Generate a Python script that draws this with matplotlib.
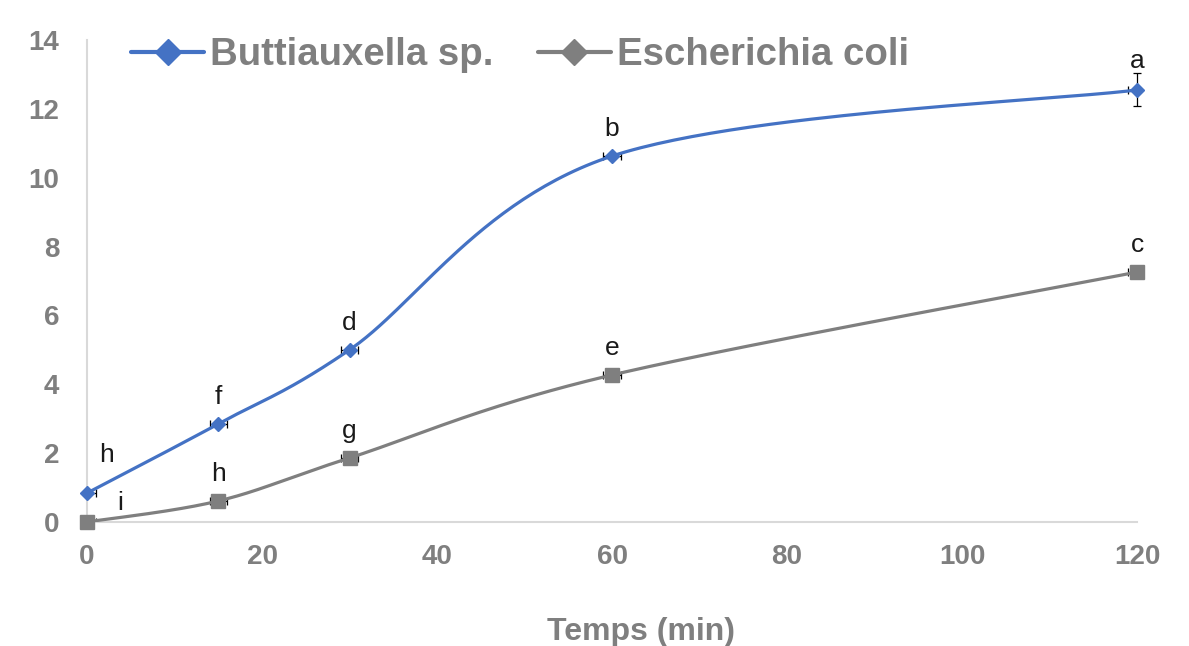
import numpy as np
import matplotlib
matplotlib.use("Agg")
import matplotlib.pyplot as plt
from matplotlib.lines import Line2D

plt.rcParams['font.family'] = ['Liberation Sans', 'DejaVu Sans']

# data
temps = [0, 15, 30, 60, 120]
butti = [0.84, 2.85, 5.0, 10.63, 12.55]
ecoli = [0.0, 0.61, 1.86, 4.27, 7.26]
butti_yerr = [0, 0, 0, 0, 0.48]
ecoli_yerr = [0, 0, 0, 0, 0]
xerr = [1.0, 1.0, 1.0, 1.0, 1.0]
butti_letters = ['h', 'f', 'd', 'b', 'a']
ecoli_letters = ['i', 'h', 'g', 'e', 'c']

BLUE = '#4472C4'
GREY = '#7F7F7F'
TXT = '#7F7F7F'


def smooth(x, y, sx, sy, n=60):
    # excel-like smoothed line: cubic bezier, tangents (P[i+1]-P[i-1])/6 in pixel space
    p = np.column_stack([np.asarray(x, float) * sx, np.asarray(y, float) * sy])
    pts = []
    m = len(p)
    for i in range(m - 1):
        p0 = p[max(i - 1, 0)]
        p1 = p[i]
        p2 = p[i + 1]
        p3 = p[min(i + 2, m - 1)]
        c1 = p1 + (p2 - p0) / 6
        c2 = p2 - (p3 - p1) / 6
        t = np.linspace(0, 1, n)[:, None]
        seg = (1 - t) ** 3 * p1 + 3 * (1 - t) ** 2 * t * c1 + 3 * (1 - t) * t ** 2 * c2 + t ** 3 * p2
        pts.append(seg if i == 0 else seg[1:])
    pts = np.vstack(pts)
    return pts[:, 0] / sx, pts[:, 1] / sy


fig = plt.figure(figsize=(11.89, 6.46), dpi=100)
ax = fig.add_axes([0.0732, 0.192, 0.8831, 0.746])
ax.set_xlim(0, 120)
ax.set_ylim(0, 14)

# pixels per unit, so the smoothing is done on screen proportions
sx = 1050 / 120
sy = 482 / 14

for ys, col in [(butti, BLUE), (ecoli, GREY)]:
    cx, cy = smooth(temps, ys, sx, sy)
    ax.plot(cx, cy, color=col, lw=2.3, zorder=3, solid_capstyle='round')

# error bars
ax.errorbar(temps, butti, xerr=xerr, fmt='none', ecolor='black', elinewidth=0.9, capsize=3, capthick=0.9, zorder=2)
ax.errorbar(temps, ecoli, xerr=xerr, fmt='none', ecolor='black', elinewidth=0.9, capsize=3, capthick=0.9, zorder=2)
idx = [i for i, e in enumerate(butti_yerr) if e > 0]
eb = ax.errorbar([temps[i] for i in idx], [butti[i] for i in idx], yerr=[butti_yerr[i] for i in idx],
                 fmt='none', ecolor='black', elinewidth=0.9, capsize=3, capthick=0.9, zorder=2)
for art in eb.lines[1] + eb.lines[2]:
    art.set_clip_on(False)

# markers
ax.plot(temps, butti, ls='none', marker='D', ms=6.8, color=BLUE, zorder=4, clip_on=False)
ax.plot(temps, ecoli, ls='none', marker='s', ms=9.5, color=GREY, zorder=4, clip_on=False)

# letters
offs_b = [(14, 22), (0, 14.4), (0, 14.4), (0, 14.4), (0, 15.5)]
offs_e = [(24, 8.5), (0, 14.4), (0, 14.4), (0, 14.4), (0, 14.4)]
for ys, labs, offs in [(butti, butti_letters, offs_b), (ecoli, ecoli_letters, offs_e)]:
    for x, y, s, o in zip(temps, ys, labs, offs):
        ax.annotate(s, (x, y), xytext=o, textcoords='offset points', ha='center', va='baseline',
                    fontsize=19, color='#1a1a1a', annotation_clip=False)

# axes look
for s in ['top', 'right']:
    ax.spines[s].set_visible(False)
for s in ['left', 'bottom']:
    ax.spines[s].set_color('#D9D9D9')
    ax.spines[s].set_linewidth(1.5)
ax.set_xticks(range(0, 121, 20))
ax.set_yticks(range(0, 15, 2))
ax.tick_params(length=0, labelsize=20, labelcolor=TXT)
for lab in ax.get_xticklabels() + ax.get_yticklabels():
    lab.set_fontweight('bold')
ax.tick_params(axis='x', pad=16)
ax.tick_params(axis='y', pad=20)
ax.set_xlabel('Temps (min)', fontsize=23, fontweight='bold', color=TXT)
ax.xaxis.set_label_coords(0.528, -0.228)
ax.xaxis.label.set_va('center')

handles = [Line2D([], [], color=BLUE, lw=3, marker='D', ms=13, solid_capstyle='round'),
           Line2D([], [], color=GREY, lw=3, marker='D', ms=13, solid_capstyle='round')]
leg = ax.legend(handles, ['Buttiauxella sp.', 'Escherichia coli'], loc='center left',
                bbox_to_anchor=(0.042, 0.968), ncol=2, frameon=False, handlelength=1.9,
                handletextpad=0.15, columnspacing=1.17, borderaxespad=0, borderpad=0,
                prop={'size': 27.6, 'weight': 'bold'})
for t in leg.get_texts():
    t.set_color(TXT)

fig.savefig('out.png', dpi=100)
